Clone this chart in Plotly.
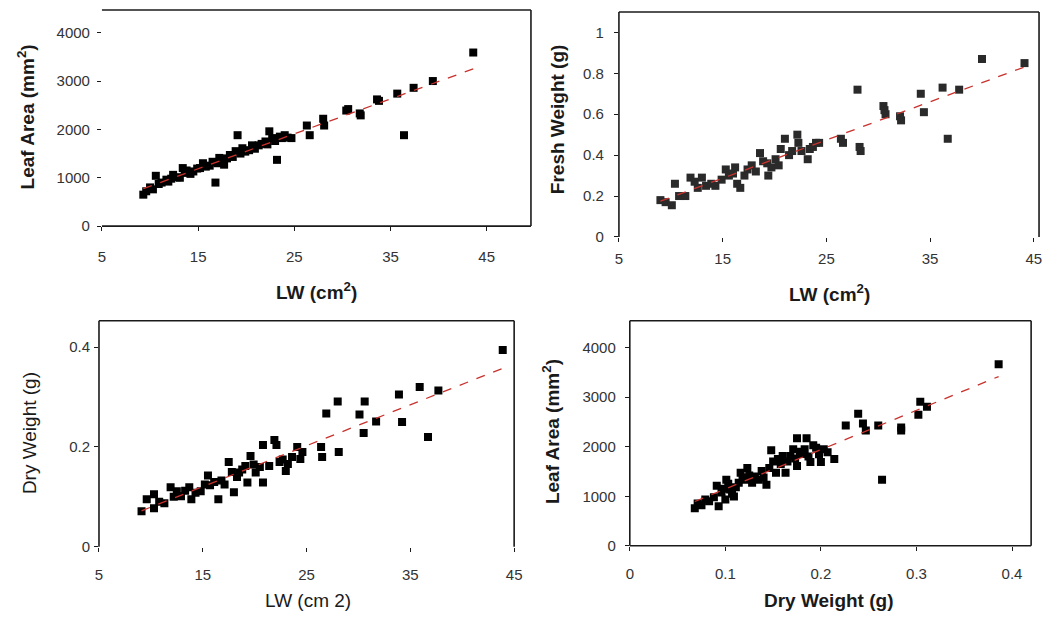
import numpy as np
import plotly.graph_objects as go

# ---------------- data ----------------
# Panel A: Leaf Area vs LW
lw_a = [9.3, 9.6, 10.0, 10.3, 10.6, 10.9, 11.2, 11.7, 11.9, 12.2, 12.4, 12.8, 13.1, 13.4, 13.6, 13.8,
        14.2, 14.5, 14.9, 15.2, 15.5, 15.8, 16.2, 16.5, 16.8, 17.0, 17.2, 17.5, 17.7, 18.0, 18.3, 18.6,
        18.9, 19.1, 19.4, 19.6, 19.9, 20.3, 20.6, 20.9, 21.3, 21.6, 22.0, 22.2, 22.4, 22.7, 23.0, 23.2,
        23.5, 23.7, 24.0, 24.3, 24.7, 26.3, 26.6, 28.0, 28.1, 30.4, 30.6, 31.8, 31.9, 33.8, 33.6, 35.7,
        36.4, 37.4, 39.4, 43.6]
la_a = [650, 720, 800, 760, 1040, 870, 900, 960, 920, 980, 1060, 1010, 1000, 1200, 1100, 1150,
        1080, 1130, 1190, 1200, 1300, 1230, 1250, 1330, 900, 1300, 1410, 1350, 1270, 1400, 1470, 1430,
        1550, 1880, 1500, 1610, 1540, 1570, 1670, 1600, 1670, 1700, 1750, 1690, 1960, 1820, 1760, 1370,
        1850, 1820, 1880, 1830, 1820, 2080, 1880, 2220, 2080, 2390, 2420, 2330, 2290, 2590, 2620, 2740,
        1880, 2860, 3000, 3590]

# Panel B: Fresh Weight vs LW
lw_b = [9.0, 9.5, 10.1, 10.4, 10.8, 11.4, 11.9, 12.3, 12.6, 13.0, 13.4, 13.9, 14.3, 14.9, 15.3, 15.6,
        16.0, 16.2, 16.4, 16.7, 17.1, 17.4, 17.8, 18.2, 18.6, 18.9, 19.3, 19.4, 19.7, 20.1, 20.4, 20.6,
        21.0, 21.4, 21.7, 22.2, 22.3, 22.6, 23.2, 23.4, 23.7, 24.0, 24.3, 26.4, 26.6, 28.0, 28.2, 28.3,
        30.5, 30.7, 30.6, 32.1, 32.2, 34.1, 34.4, 36.2, 36.7, 37.8, 40.0, 44.1]
fw_b = [0.18, 0.17, 0.155, 0.26, 0.20, 0.20, 0.29, 0.27, 0.24, 0.29, 0.25, 0.26, 0.25, 0.28, 0.33, 0.30,
        0.31, 0.34, 0.26, 0.24, 0.30, 0.33, 0.35, 0.32, 0.41, 0.37, 0.36, 0.30, 0.34, 0.38, 0.35, 0.43,
        0.48, 0.40, 0.42, 0.50, 0.46, 0.42, 0.38, 0.43, 0.44, 0.46, 0.46, 0.48, 0.46, 0.72, 0.44, 0.42,
        0.64, 0.60, 0.62, 0.59, 0.57, 0.70, 0.61, 0.73, 0.48, 0.72, 0.87, 0.85]

# Panel C: Dry Weight vs LW
lw_c = [9.1, 9.6, 10.3, 10.3, 10.8, 11.3, 11.9, 12.2, 12.5, 12.9, 13.3, 13.7, 13.9, 14.3, 14.8, 15.2,
        15.5, 15.7, 16.1, 16.5, 16.8, 17.1, 17.5, 17.8, 18.0, 18.3, 18.5, 18.8, 19.1, 19.3, 19.6, 19.9,
        20.1, 20.5, 20.8, 20.8, 21.4, 21.9, 22.1, 22.4, 22.7, 23.0, 23.2, 23.6, 24.1, 24.4, 24.6, 26.4,
        26.5, 26.9, 28.0, 28.1, 30.1, 30.5, 30.6, 31.7, 33.9, 34.2, 35.9, 36.7, 37.7, 43.9]
dw_c = [0.071, 0.095, 0.105, 0.077, 0.090, 0.087, 0.119, 0.100, 0.111, 0.101, 0.112, 0.119, 0.095, 0.108,
        0.111, 0.125, 0.143, 0.123, 0.130, 0.095, 0.133, 0.125, 0.170, 0.150, 0.109, 0.140, 0.149, 0.155,
        0.162, 0.129, 0.182, 0.165, 0.149, 0.160, 0.129, 0.204, 0.162, 0.214, 0.204, 0.170, 0.175, 0.152,
        0.166, 0.180, 0.200, 0.176, 0.190, 0.200, 0.180, 0.267, 0.291, 0.190, 0.265, 0.228, 0.291, 0.251,
        0.305, 0.250, 0.320, 0.220, 0.313, 0.394]

# Panel D: Leaf Area vs Dry Weight
dw_d = [0.068, 0.071, 0.075, 0.079, 0.083, 0.088, 0.091, 0.093, 0.096, 0.098, 0.100, 0.101, 0.103, 0.105,
        0.107, 0.109, 0.111, 0.114, 0.116, 0.118, 0.121, 0.123, 0.125, 0.128, 0.131, 0.135, 0.138, 0.140,
        0.143, 0.146, 0.148, 0.150, 0.153, 0.155, 0.158, 0.160, 0.163, 0.165, 0.168, 0.171, 0.173, 0.175,
        0.175, 0.178, 0.180, 0.183, 0.185, 0.187, 0.189, 0.192, 0.195, 0.198, 0.200, 0.203, 0.207, 0.214,
        0.226, 0.239, 0.244, 0.247, 0.260, 0.264, 0.284, 0.284, 0.302, 0.304, 0.311, 0.386]
la_d = [756, 856, 820, 935, 900, 980, 1214, 796, 1075, 1150, 935, 1333, 1250, 1134,
        1050, 995, 1180, 1274, 1473, 1380, 1333, 1572, 1420, 1274, 1400, 1333, 1512, 1380,
        1234, 1572, 1930, 1700, 1473, 1751, 1650, 1811, 1473, 1700, 1811, 1950, 1760, 1612,
        2169, 1900, 1851, 1950, 2169, 1800, 1691, 2030, 1980, 1850, 1691, 1950, 1890, 1751,
        2428, 2667, 2468, 2328, 2428, 1333, 2328, 2388, 2647, 2906, 2806, 3662]

x_ticks_lw = [5, 15, 25, 35, 45]
y_ticks_la = [0, 1000, 2000, 3000, 4000]
y_ticks_fw = [0, 0.2, 0.4, 0.6, 0.8, 1]
y_ticks_dw = [0, 0.2, 0.4]
x_ticks_dw = [0, 0.1, 0.2, 0.3, 0.4]

# ---------------- figure ----------------
OFF = 8                      # default page body margin
W, H = 1058 - 2 * OFF, 623 - 2 * OFF
FONT = "Liberation Sans, Arial, sans-serif"
INK = "#1a1a1a"
RED = "#c8322d"

panels = [
    (lw_a, la_a, "", "#000000"),
    (lw_b, fw_b, "2", "#2a2a2a"),
    (lw_c, dw_c, "3", "#000000"),
    (dw_d, la_d, "4", "#000000"),
]

fig = go.Figure()
for xs, ys, s, mc in panels:
    xa, ya = "x" + s, "y" + s
    fig.add_trace(go.Scatter(x=xs, y=ys, mode="markers", xaxis=xa, yaxis=ya,
                             marker=dict(symbol="square", size=8, color=mc,
                                         line=dict(width=0)),
                             showlegend=False, hoverinfo="x+y"))
    k, b = np.polyfit(np.array(xs, float), np.array(ys, float), 1)
    x0, x1 = min(xs), max(xs)
    fig.add_trace(go.Scatter(x=[x0, x1], y=[k * x0 + b, k * x1 + b], mode="lines",
                             xaxis=xa, yaxis=ya,
                             line=dict(color=RED, width=1.3, dash="dash"),
                             showlegend=False, hoverinfo="skip"))


def px_x(p):
    return (p - OFF) / W


def px_y(p):
    return 1 - (p - OFF) / H


def ax(domain, rng, ticks, standoff):
    return dict(domain=domain, range=rng, tickvals=ticks, showgrid=False, zeroline=False,
                showline=False, ticks="outside", ticklen=4, tickwidth=1.2, tickcolor=INK,
                tickfont=dict(family=FONT, size=15, color="#333333"),
                ticklabelstandoff=standoff, fixedrange=True)


layout = dict(
    width=W, height=H, margin=dict(l=0, r=0, t=0, b=0),
    paper_bgcolor="white", plot_bgcolor="white", showlegend=False,
    font=dict(family=FONT, color=INK),
    xaxis=ax([px_x(99), px_x(533)], [5, 49.6], x_ticks_lw, 13),
    yaxis=ax([px_y(229), px_y(10)], [0, 4470], y_ticks_la, 4),
    xaxis2=ax([px_x(622), px_x(1047)], [5, 45.5], x_ticks_lw, 4),
    yaxis2=ax([px_y(240), px_y(12)], [0, 1.1], y_ticks_fw, 7),
    xaxis3=ax([px_x(96), px_x(516)], [5, 45], x_ticks_lw, 10),
    yaxis3=ax([px_y(554), px_y(325)], [0, 0.4525], y_ticks_dw, 1),
    xaxis4=ax([px_x(633), px_x(1039)], [0, 0.42], x_ticks_dw, 10),
    yaxis4=ax([px_y(553), px_y(325)], [0, 4540], y_ticks_la, 6),
)
layout["xaxis"]["anchor"] = "y"
layout["yaxis"]["anchor"] = "x"
for s in ["2", "3", "4"]:
    layout["xaxis" + s]["anchor"] = "y" + s
    layout["yaxis" + s]["anchor"] = "x" + s
fig.update_layout(**layout)

# frame lines (as seen in the reference: some sides missing)
sides = {
    "": ["bottom", "top", "right"],
    "2": ["left", "top", "right"],
    "3": ["left", "top", "right"],
    "4": ["left", "top", "right", "bottom"],
}
coords = {"bottom": (0, 0, 1, 0), "top": (0, 1, 1, 1), "left": (0, 0, 0, 1), "right": (1, 0, 1, 1)}
for s, ss in sides.items():
    xr, yr = "x" + s + " domain", "y" + s + " domain"
    for side in ss:
        c = coords[side]
        fig.add_shape(type="line", xref=xr, yref=yr, x0=c[0], y0=c[1], x1=c[2], y1=c[3],
                      line=dict(color=INK, width=1.6))

# axis titles
titles = [
    ("Leaf Area (mm<sup>2</sup>)", 22, 118, -90, "bold"),
    ("LW (cm<sup>2</sup>)", 316, 295, 0, "bold"),
    ("Fresh Weight (g)", 560, 121, -90, "bold"),
    ("LW (cm<sup>2</sup>)", 835, 297, 0, "bold"),
    ("Dry Weight (g)", 26, 439, -90, "normal"),
    ("LW (cm 2)", 307, 608, 0, "normal"),
    ("Leaf Area (mm<sup>2</sup>)", 554, 437, -90, "bold"),
    ("Dry Weight (g)", 834, 608, 0, "bold"),
]
for text, xp, yp, ang, wt in titles:
    fig.add_annotation(text=text, x=px_x(xp), y=px_y(yp), xref="paper", yref="paper",
                       showarrow=False, textangle=ang, xanchor="center", yanchor="middle",
                       font=dict(family=FONT, size=19, color=INK, weight=wt))

fig.write_html("out.html")
